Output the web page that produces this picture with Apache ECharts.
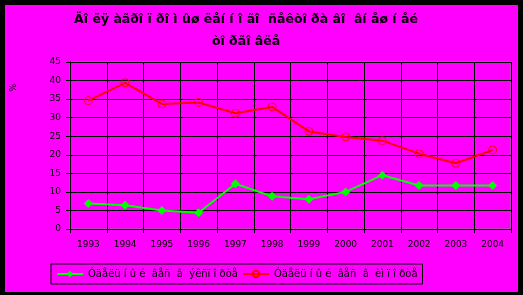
<!DOCTYPE html>
<html><head><meta charset="utf-8">
<script src="https://cdn.jsdelivr.net/npm/echarts@6/dist/echarts.min.js"></script>
<style>
html,body{margin:0;padding:0;background:#000;width:523px;height:295px;overflow:hidden}
#c{position:absolute;left:5px;top:5px;width:513px;height:287px}
</style></head>
<body><div id="c"></div>
<script>
const years = ['1993','1994','1995','1996','1997','1998','1999','2000','2001','2002','2003','2004'];
const exportShare = [6.9, 6.4, 5.0, 4.4, 12.2, 8.8, 8.0, 10.0, 14.5, 11.7, 11.7, 11.7];
const importShare = [34.6, 39.4, 33.7, 34.1, 31.2, 32.9, 26.3, 24.8, 23.8, 20.3, 17.7, 21.3];
const titleLines = ['Äî ëÿ àãðî ï ðî ì ûø ëåí í î ãî  ñåêòî ðà âî  âí åø í åé', 'òî ðãî âëå'];
const seriesNames = ['Óäåëü í û é  âåñ  â  ýêñï î ðòå', 'Óäåëü í û é  âåñ  â  èì ï î ðòå'];
const yName = '%';

const FONT = 'DejaVu Sans, Liberation Sans, sans-serif';
const chart = echarts.init(document.getElementById('c'));
chart.setOption({
  backgroundColor: '#ff00ff',
  animation: false,
  textStyle: {fontFamily: FONT},
  graphic: [
    {type:'text', x: 241, y: 4, style:{text: titleLines.join('\n'), fontSize: 12.5, fontWeight:'bold', fill:'#000', lineHeight: 22, align:'center', verticalAlign:'top', fontFamily: FONT}},
    {type:'text', x: 10, y: 79, rotation: -Math.PI/2, style:{text: yName, fontSize: 8, fill:'#000', fontFamily: FONT}}
  ],
  grid: {left: 65, top: 57, width: 441, height: 167, show: true, borderColor: '#808080', borderWidth: 1},
  legend: {
    left: 46, top: 259, width: 371,
    padding: [5, 5, 5, 5],
    itemGap: 4,
    itemWidth: 26, itemHeight: 8,
    backgroundColor: '#ff00ff', borderColor: '#000', borderWidth: 1,
    textStyle: {fontSize: 10, color: '#000', fontFamily: FONT},
    data: seriesNames
  },
  xAxis: {
    type: 'category', data: years, boundaryGap: true,
    axisLine: {lineStyle: {color: '#000', width: 1}},
    axisTick: {show: true, length: 4, lineStyle:{color:'#000'}},
    axisLabel: {color: '#000', fontSize: 9, margin: 11},
    splitLine: {show: true, lineStyle: {color: '#000', width: 1}}
  },
  yAxis: {
    type: 'value', min: 0, max: 45, interval: 5,
    axisLine: {show: true, lineStyle: {color: '#000', width: 1}},
    axisTick: {show: true, length: 4, lineStyle:{color:'#000'}},
    axisLabel: {color: '#000', fontSize: 9, margin: 9},
    splitLine: {show: true, lineStyle: {color: '#000', width: 1}}
  },
  series: [
    {name: seriesNames[0], type: 'line', data: exportShare, symbol: 'diamond', symbolSize: 9,
     itemStyle: {color: '#00ff00'}, lineStyle: {color: '#00ff00', width: 2}},
    {name: seriesNames[1], type: 'line', data: importShare, symbol: 'circle', symbolSize: 8,
     itemStyle: {color: 'rgba(0,0,0,0)', borderColor: '#ff0000', borderWidth: 1},
     lineStyle: {color: '#ff0000', width: 2}}
  ]
});
</script></body></html>
